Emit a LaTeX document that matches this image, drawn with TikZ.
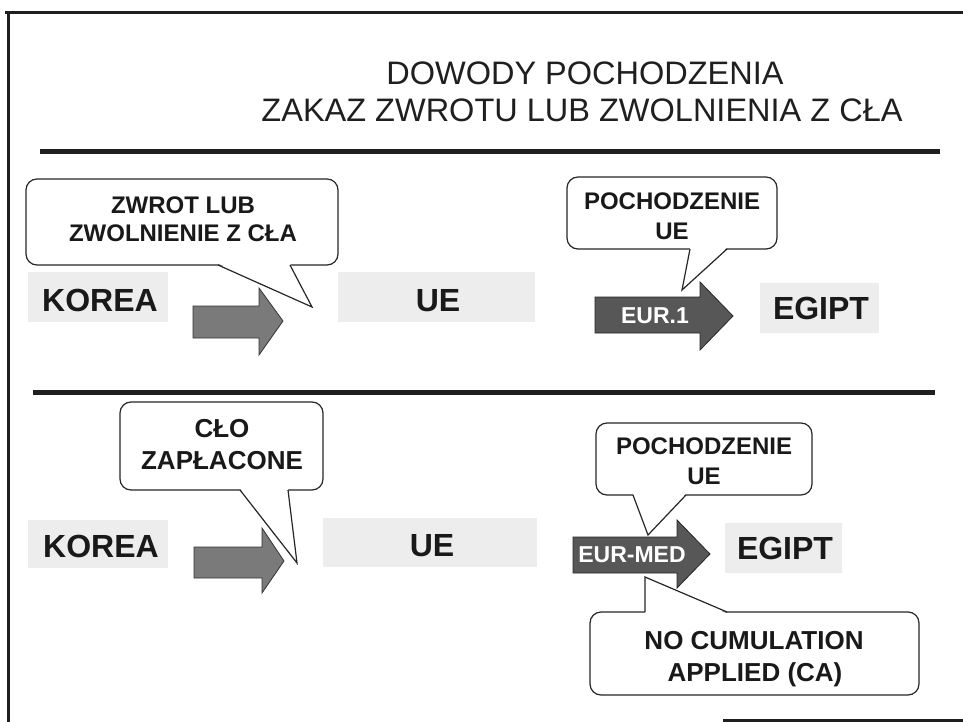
\documentclass[tikz,border=0pt]{standalone}
\usepackage{fontspec}
\setmainfont{Liberation Sans}
\begin{document}
\begin{tikzpicture}[x=1pt,y=-1pt,
  title/.style={font=\fontsize{32.5}{38}\selectfont, text=black!88, inner sep=0pt, text height=23.3pt, text depth=0pt},
  lbl/.style={font=\bfseries\fontsize{32}{36}\selectfont, text=black!90, inner sep=0pt, text height=23pt, text depth=0pt},
  ctext/.style={font=\bfseries\fontsize{24}{28}\selectfont, text=black!90, inner sep=0pt, text height=17.2pt, text depth=0pt},
  ctextb/.style={font=\bfseries\fontsize{26}{30}\selectfont, text=black!90, inner sep=0pt, text height=18.6pt, text depth=0pt},
  atext/.style={font=\bfseries\fontsize{23}{27}\selectfont, text=white, inner sep=0pt, text height=16.5pt, text depth=0pt},
  bubble/.style={draw=black!85, line width=1.2pt, fill=white, rounded corners=11pt},
  tailline/.style={draw=black!85, line width=1.2pt, line join=miter},
  bg/.style={fill=black!7},
  larrow/.style={fill=black!52, draw=black!80, line width=0.8pt},
  darrow/.style={fill=black!66, draw=black!85, line width=0.8pt},
  rulebar/.style={line width=5pt, black!88},
  frame/.style={line width=2.7pt, black!88},
]
\useasboundingbox (0,0) rectangle (963,722);
\fill[white] (0,0) rectangle (963,722);

% frame
\draw[frame] (5,12.5) -- (963,12.5);
\draw[frame] (8.5,11.2) -- (8.5,722);
\draw[frame] (723,720.5) -- (963,720.5);

% title
\node[title] (t1) at (585,73) {DOWODY POCHODZENIA};
\node[title] (t2) at (582,110) {ZAKAZ ZWROTU LUB ZWOLNIENIA Z CŁA};

% rules
\draw[rulebar] (40,152) -- (940,152);
\draw[rulebar] (33,392) -- (935,392);

% ---------- row 1 ----------
\fill[bg] (28,272) rectangle (168,322);
\fill[bg] (338,272) rectangle (535,322);
\fill[bg] (760,283) rectangle (879,333);

\node[lbl] (korea1) at (100,300) {KOREA};
\node[lbl] (ue1) at (438,300) {UE};
\node[lbl] (egipt1) at (821,308) {EGIPT};

\draw[larrow] (193,306) -- (259,306) -- (259,288) -- (283,321) -- (259,355) -- (259,338) -- (193,338) -- cycle;
\draw[darrow] (595,297) -- (700,297) -- (700,282) -- (733,316) -- (700,350) -- (700,333) -- (595,333) -- cycle;
\node[atext] (eur1) at (655,315) {EUR.1};

% callout A
\draw[bubble] (26,179) rectangle (338,265);
\coordinate (tipA) at (312,307);
\fill[white] (218,263.5) -- (tipA) -- (290,263.5) -- cycle;
\draw[tailline] (218,265) -- (tipA) -- (290,265);
\node[ctext] (a1) at (183,205) {ZWROT LUB};
\node[ctext] (a2) at (183,233) {ZWOLNIENIE Z CŁA};

% callout B
\draw[bubble] (567,177) rectangle (777,249);
\coordinate (tipB) at (682,290);
\fill[white] (690,247.5) -- (tipB) -- (727,247.5) -- cycle;
\draw[tailline] (690,249) -- (tipB) -- (727,249);
\node[ctext] (b1) at (672,201) {POCHODZENIE};
\node[ctext] (b2) at (672,231) {UE};

% ---------- row 2 ----------
\fill[bg] (28,520) rectangle (168,568);
\fill[bg] (323,518) rectangle (537,567);
\fill[bg] (725,523) rectangle (842,573);

\node[lbl] (korea2) at (101,546) {KOREA};
\node[lbl] (ue2) at (432,545) {UE};
\node[lbl] (egipt2) at (785,548) {EGIPT};

\draw[larrow] (194,547) -- (262,547) -- (262,528) -- (284,561) -- (262,593) -- (262,578) -- (194,578) -- cycle;
\draw[darrow] (573,537) -- (677,537) -- (677,520) -- (710,554) -- (677,588) -- (677,573) -- (573,573) -- cycle;
\node[atext] (eurmed) at (632,554) {EUR-MED};

% callout C
\draw[bubble] (120,402) rectangle (323,490);
\coordinate (tipC) at (297,563);
\fill[white] (240,488.5) -- (tipC) -- (288,488.5) -- cycle;
\draw[tailline] (240,490) -- (tipC) -- (288,490);
\node[ctextb] (c1) at (222,428) {CŁO};
\node[ctextb] (c2) at (222,460) {ZAPŁACONE};

% callout D
\draw[bubble] (596,423) rectangle (812,495);
\coordinate (tipD) at (648,535);
\fill[white] (633,493.5) -- (tipD) -- (686,493.5) -- cycle;
\draw[tailline] (633,495) -- (tipD) -- (686,495);
\node[ctext] (d1) at (704,446) {POCHODZENIE};
\node[ctext] (d2) at (704,476) {UE};

% callout E
\draw[bubble] (590,612) rectangle (919,695);
\coordinate (tipE) at (645,577);
\fill[white] (645,613.5) -- (tipE) -- (727,613.5) -- cycle;
\draw[tailline] (645,612) -- (tipE) -- (727,612);
\node[ctextb] (e1) at (754,640) {NO CUMULATION};
\node[ctextb] (e2) at (755,672) {APPLIED (CA)};
\end{tikzpicture}
\end{document}
